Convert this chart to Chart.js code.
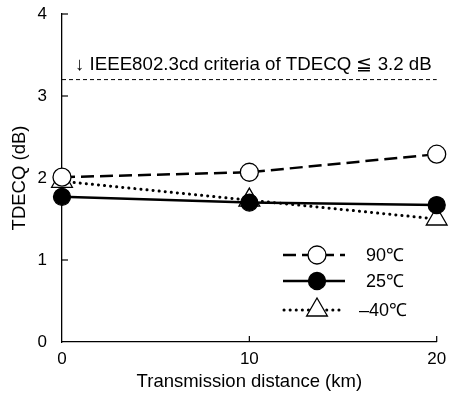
<!DOCTYPE html>
<html lang="en">
<head>
<meta charset="UTF-8">
<title>TDECQ vs distance</title>
<script src="https://cdn.jsdelivr.net/npm/chart.js"></script>
<style>
    body { margin: 0; background: #fff; }
    #wrap { width: 450px; height: 394px; }
</style>
</head>
<body>
<div id="wrap"><canvas id="tdecqChart"></canvas></div>
<script>
    // data
    const distances = [0, 10, 20];
    const tdecq90 = [2.01, 2.07, 2.29];
    const tdecq25 = [1.77, 1.70, 1.67];
    const tdecqMinus40 = [1.96, 1.73, 1.50];
    const seriesLabels = ['90\u2103', '25\u2103', '\u201340\u2103'];
    const criteria = 3.2;
    const criteriaText = '\u2193 IEEE802.3cd criteria of TDECQ \u2266 3.2 dB';

    const FONT = '"Liberation Sans", Arial, sans-serif';

    const toXY = vals => vals.map((v, i) => ({ x: distances[i], y: v }));

    // same shapes as chart.js point styles
    function marker(ctx, style, x, y, r, fill) {
        ctx.save();
        ctx.beginPath();
        if (style === 'triangle') {
            let a = 0;
            ctx.moveTo(x + Math.sin(a) * r, y - Math.cos(a) * r);
            a += Math.PI * 2 / 3;
            ctx.lineTo(x + Math.sin(a) * r, y - Math.cos(a) * r);
            a += Math.PI * 2 / 3;
            ctx.lineTo(x + Math.sin(a) * r, y - Math.cos(a) * r);
            ctx.closePath();
        } else {
            ctx.arc(x, y, r, 0, Math.PI * 2);
        }
        ctx.fillStyle = fill;
        ctx.fill();
        ctx.lineWidth = 1.3;
        ctx.strokeStyle = '#000';
        ctx.stroke();
        ctx.restore();
    }

    const extras = {
        id: 'extras',
        beforeDatasetsDraw(chart) {
            const { ctx, chartArea } = chart;
            const xs = chart.scales.x, ys = chart.scales.y;
            ctx.save();
            // inward ticks
            ctx.strokeStyle = '#000';
            ctx.lineWidth = 1.2;
            [1, 2, 3, 4].forEach(v => {
                const py = ys.getPixelForValue(v);
                ctx.beginPath();
                ctx.moveTo(chartArea.left, py);
                ctx.lineTo(chartArea.left + 6, py);
                ctx.stroke();
            });
            [10, 20].forEach(v => {
                const px = xs.getPixelForValue(v);
                ctx.beginPath();
                ctx.moveTo(px, chartArea.bottom);
                ctx.lineTo(px, chartArea.bottom - 6);
                ctx.stroke();
            });
            // criteria line
            const cy = ys.getPixelForValue(criteria);
            ctx.lineWidth = 1;
            ctx.setLineDash([4, 3]);
            ctx.beginPath();
            ctx.moveTo(chartArea.left, cy);
            ctx.lineTo(chartArea.right, cy);
            ctx.stroke();
            ctx.setLineDash([]);
            ctx.fillStyle = '#000';
            ctx.font = '18.7px ' + FONT;
            ctx.textBaseline = 'middle';
            ctx.textAlign = 'left';
            ctx.fillText(criteriaText, chartArea.left + 13, cy - 15);
            ctx.restore();
        },
        afterDraw(chart) {
            // legend, bottom right inside the plot
            const ctx = chart.ctx;
            const rows = [
                { y: 255, dash: [13, 6], style: 'circle', r: 9, fill: '#fff' },
                { y: 281, dash: [], style: 'circle', r: 8.5, fill: '#000' },
                { y: 310, dash: [0.1, 6], style: 'triangle', r: 12, fill: '#fff' }
            ];
            ctx.save();
            rows.forEach((r, i) => {
                ctx.strokeStyle = '#000';
                ctx.lineWidth = i === 2 ? 3 : 2.5;
                ctx.setLineDash(r.dash);
                ctx.lineCap = i === 2 ? 'round' : 'butt';
                ctx.beginPath();
                ctx.moveTo(i === 2 ? 284 : 283, r.y);
                ctx.lineTo(345, r.y);
                ctx.stroke();
                ctx.setLineDash([]);
                marker(ctx, r.style, 317, r.y, r.r, r.fill);
                ctx.fillStyle = '#000';
                ctx.font = '18px ' + FONT;
                ctx.textBaseline = 'middle';
                ctx.textAlign = 'left';
                ctx.fillText(seriesLabels[i], i === 2 ? 359 : 366, r.y + 1);
            });
            ctx.restore();
        }
    };

    const ctx = document.getElementById('tdecqChart').getContext('2d');
    new Chart(ctx, {
        type: 'line',
        data: {
            datasets: [
                {
                    label: seriesLabels[2],
                    data: toXY(tdecqMinus40),
                    borderColor: '#000',
                    borderWidth: 3,
                    borderDash: [0.1, 6],
                    borderCapStyle: 'round',
                    pointStyle: 'triangle',
                    pointRadius: 12,
                    pointBackgroundColor: '#fff',
                    pointBorderColor: '#000',
                    pointBorderWidth: 1.3,
                    order: 3
                },
                {
                    label: seriesLabels[1],
                    data: toXY(tdecq25),
                    borderColor: '#000',
                    borderWidth: 2.5,
                    pointStyle: 'circle',
                    pointRadius: 8.5,
                    pointBackgroundColor: '#000',
                    pointBorderColor: '#000',
                    pointBorderWidth: 1.3,
                    order: 2
                },
                {
                    label: seriesLabels[0],
                    data: toXY(tdecq90),
                    borderColor: '#000',
                    borderWidth: 2.5,
                    borderDash: [13, 6],
                    pointStyle: 'circle',
                    pointRadius: 9,
                    pointBackgroundColor: '#fff',
                    pointBorderColor: '#000',
                    pointBorderWidth: 1.3,
                    order: 1
                }
            ]
        },
        options: {
            responsive: true,
            maintainAspectRatio: false,
            animation: false,
            clip: false,
            layout: { padding: { top: 14, right: 13, left: 0, bottom: 0 } },
            plugins: {
                legend: { display: false },
                tooltip: { enabled: false }
            },
            scales: {
                x: {
                    type: 'linear',
                    min: 0,
                    max: 20,
                    afterFit: s => { s.height = 52; s.paddingLeft = 0; s.paddingRight = 0; },
                    border: { color: '#000', width: 1.3 },
                    grid: { display: false, drawTicks: false },
                    ticks: {
                        stepSize: 10,
                        color: '#000',
                        padding: 7,
                        font: { family: FONT, size: 17 }
                    },
                    title: {
                        display: true,
                        text: 'Transmission distance (km)',
                        color: '#000',
                        padding: { top: 0, bottom: 1 },
                        font: { family: FONT, size: 18.5 }
                    }
                },
                y: {
                    min: 0,
                    max: 4,
                    afterFit: s => { s.width = 62; s.paddingTop = 0; s.paddingBottom = 0; },
                    border: { color: '#000', width: 1.3 },
                    grid: { display: false, drawTicks: false },
                    ticks: {
                        stepSize: 1,
                        color: '#000',
                        padding: 15,
                        font: { family: FONT, size: 17 }
                    },
                    title: {
                        display: true,
                        text: 'TDECQ (dB)',
                        color: '#000',
                        padding: { top: 9, bottom: 0 },
                        font: { family: FONT, size: 18.5 }
                    }
                }
            }
        },
        plugins: [extras]
    });
</script>
</body>
</html>
